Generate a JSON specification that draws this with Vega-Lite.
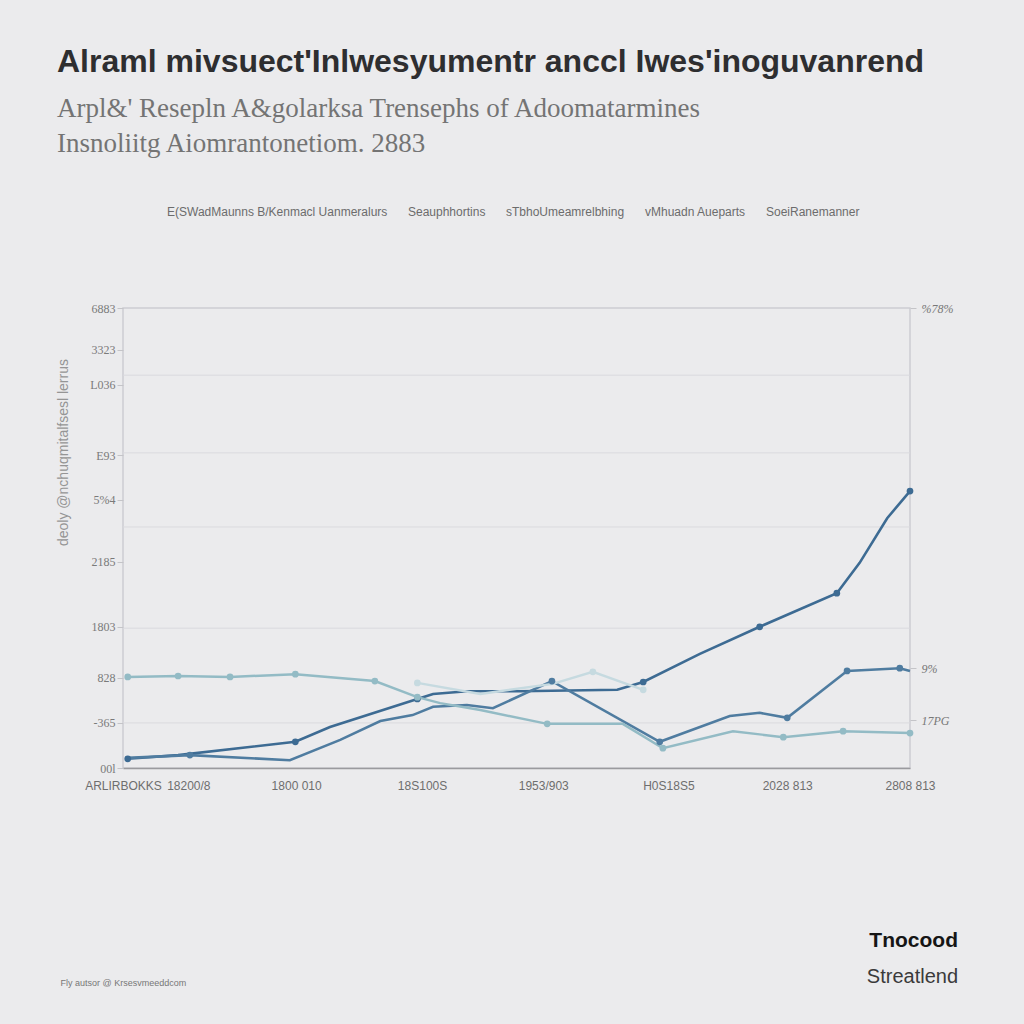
{
  "$schema": "https://vega.github.io/schema/vega-lite/v6.json",
  "width": 787,
  "height": 460,
  "autosize": {"type": "none"},
  "padding": {"left": 123, "top": 308, "right": 114, "bottom": 256},
  "background": "#ebebed",
  "config": {
    "view": {"stroke": "#cdcdd2", "strokeWidth": 1.5},
    "font": "Liberation Sans"
  },
  "title": {
    "text": "Alraml mivsuect'Inlwesyumentr anccl Iwes'inoguvanrend",
    "subtitle": ["Arpl&' Resepln A&golarksa Trensephs of Adoomatarmines", "Insnoliitg Aiomrantonetiom.  2883"],
    "anchor": "start",
    "frame": "group",
    "dx": -66,
    "offset": 48,
    "font": "Liberation Sans",
    "fontSize": 32,
    "fontWeight": "bold",
    "color": "#2e2e30",
    "subtitleFont": "Liberation Serif",
    "subtitleFontSize": 27,
    "subtitleColor": "#747474",
    "subtitlePadding": 17,
    "subtitleLineHeight": 35
  },
  "datasets": {
    "series": [
      {"series": "E(SWadMaunns B/Kenmacl Uanmeralurs", "t": 0.6, "v": 2.0, "mk": true},
      {"series": "E(SWadMaunns B/Kenmacl Uanmeralurs", "t": 7.0, "v": 2.8, "mk": false},
      {"series": "E(SWadMaunns B/Kenmacl Uanmeralurs", "t": 21.9, "v": 5.7, "mk": true},
      {"series": "E(SWadMaunns B/Kenmacl Uanmeralurs", "t": 26.3, "v": 8.9, "mk": false},
      {"series": "E(SWadMaunns B/Kenmacl Uanmeralurs", "t": 37.4, "v": 15.0, "mk": true},
      {"series": "E(SWadMaunns B/Kenmacl Uanmeralurs", "t": 39.4, "v": 16.1, "mk": false},
      {"series": "E(SWadMaunns B/Kenmacl Uanmeralurs", "t": 43.7, "v": 16.7, "mk": false},
      {"series": "E(SWadMaunns B/Kenmacl Uanmeralurs", "t": 50.4, "v": 16.7, "mk": false},
      {"series": "E(SWadMaunns B/Kenmacl Uanmeralurs", "t": 62.8, "v": 17.0, "mk": false},
      {"series": "E(SWadMaunns B/Kenmacl Uanmeralurs", "t": 66.1, "v": 18.7, "mk": true},
      {"series": "E(SWadMaunns B/Kenmacl Uanmeralurs", "t": 73.3, "v": 24.8, "mk": false},
      {"series": "E(SWadMaunns B/Kenmacl Uanmeralurs", "t": 80.9, "v": 30.7, "mk": true},
      {"series": "E(SWadMaunns B/Kenmacl Uanmeralurs", "t": 90.7, "v": 38.0, "mk": true},
      {"series": "E(SWadMaunns B/Kenmacl Uanmeralurs", "t": 93.6, "v": 44.6, "mk": false},
      {"series": "E(SWadMaunns B/Kenmacl Uanmeralurs", "t": 97.1, "v": 54.3, "mk": false},
      {"series": "E(SWadMaunns B/Kenmacl Uanmeralurs", "t": 100, "v": 60.2, "mk": true},
      {"series": "Seauphhortins", "t": 0.6, "v": 2.2, "mk": false},
      {"series": "Seauphhortins", "t": 8.5, "v": 2.8, "mk": true},
      {"series": "Seauphhortins", "t": 21.2, "v": 1.7, "mk": false},
      {"series": "Seauphhortins", "t": 27.6, "v": 6.1, "mk": false},
      {"series": "Seauphhortins", "t": 32.7, "v": 10.2, "mk": false},
      {"series": "Seauphhortins", "t": 36.8, "v": 11.5, "mk": false},
      {"series": "Seauphhortins", "t": 39.4, "v": 13.3, "mk": false},
      {"series": "Seauphhortins", "t": 43.7, "v": 13.7, "mk": false},
      {"series": "Seauphhortins", "t": 47.0, "v": 13.0, "mk": false},
      {"series": "Seauphhortins", "t": 54.5, "v": 18.9, "mk": true},
      {"series": "Seauphhortins", "t": 68.2, "v": 5.7, "mk": true},
      {"series": "Seauphhortins", "t": 77.1, "v": 11.3, "mk": false},
      {"series": "Seauphhortins", "t": 80.9, "v": 12.0, "mk": false},
      {"series": "Seauphhortins", "t": 84.4, "v": 10.9, "mk": true},
      {"series": "Seauphhortins", "t": 92.0, "v": 21.1, "mk": true},
      {"series": "Seauphhortins", "t": 98.7, "v": 21.7, "mk": true},
      {"series": "Seauphhortins", "t": 100, "v": 21.1, "mk": false},
      {"series": "sTbhoUmeamrelbhing", "t": 0.6, "v": 19.8, "mk": true},
      {"series": "sTbhoUmeamrelbhing", "t": 7.0, "v": 20.0, "mk": true},
      {"series": "sTbhoUmeamrelbhing", "t": 13.6, "v": 19.8, "mk": true},
      {"series": "sTbhoUmeamrelbhing", "t": 21.9, "v": 20.4, "mk": true},
      {"series": "sTbhoUmeamrelbhing", "t": 32.0, "v": 18.9, "mk": true},
      {"series": "sTbhoUmeamrelbhing", "t": 37.4, "v": 15.4, "mk": true},
      {"series": "sTbhoUmeamrelbhing", "t": 40.3, "v": 14.1, "mk": false},
      {"series": "sTbhoUmeamrelbhing", "t": 45.4, "v": 12.6, "mk": false},
      {"series": "sTbhoUmeamrelbhing", "t": 53.9, "v": 9.6, "mk": true},
      {"series": "sTbhoUmeamrelbhing", "t": 63.5, "v": 9.6, "mk": false},
      {"series": "sTbhoUmeamrelbhing", "t": 68.6, "v": 4.3, "mk": true},
      {"series": "sTbhoUmeamrelbhing", "t": 77.5, "v": 8.0, "mk": false},
      {"series": "sTbhoUmeamrelbhing", "t": 83.9, "v": 6.7, "mk": true},
      {"series": "sTbhoUmeamrelbhing", "t": 91.5, "v": 8.0, "mk": true},
      {"series": "sTbhoUmeamrelbhing", "t": 100, "v": 7.6, "mk": true},
      {"series": "vMhuadn Aueparts", "t": 37.4, "v": 18.5, "mk": true},
      {"series": "vMhuadn Aueparts", "t": 45.4, "v": 16.1, "mk": false},
      {"series": "vMhuadn Aueparts", "t": 54.6, "v": 18.3, "mk": false},
      {"series": "vMhuadn Aueparts", "t": 59.7, "v": 20.9, "mk": true},
      {"series": "vMhuadn Aueparts", "t": 66.1, "v": 17.0, "mk": true}
    ],
    "grid": [{"g": 85.4}, {"g": 68.5}, {"g": 52.4}, {"g": 30.4}, {"g": 9.8}],
    "one": [{"n": 1}]
  },
  "resolve": {"axis": {"y": "independent"}},
  "layer": [
    {
      "data": {"name": "grid"},
      "mark": {"type": "rule", "color": "#dadade", "strokeWidth": 1},
      "encoding": {
        "y": {
          "field": "g", "type": "quantitative",
          "scale": {"domain": [0, 100], "nice": false},
          "axis": {
            "orient": "right", "values": [100, 21.7, 10.4],
            "labelExpr": "datum.value > 50 ? '%78%' : datum.value > 15 ? '9%' : '17PG'",
            "grid": false, "domain": false, "ticks": true, "tickSize": 6, "tickColor": "#c4c4c8",
            "labelColor": "#777777", "labelFontSize": 12, "labelFontStyle": "italic", "labelFont": "Liberation Serif",
            "labelPadding": 5, "title": null
          }
        }
      }
    },
    {
      "data": {"name": "series"},
      "mark": {"type": "line"},
      "encoding": {
        "x": {
          "field": "t", "type": "quantitative",
          "scale": {"domain": [0, 100], "nice": false},
          "axis": {
            "values": [0, 8.3, 22, 38, 53.4, 69.3, 84.4, 100],
            "labelExpr": "datum.value < 4 ? 'ARLIRBOKKS' : datum.value < 15 ? '18200/8' : datum.value < 30 ? '1800 010' : datum.value < 45 ? '18S100S' : datum.value < 60 ? '1953/903' : datum.value < 75 ? 'H0S18S5' : datum.value < 90 ? '2028 813' : '2808 813'",
            "grid": false, "ticks": false, "domain": true, "domainColor": "#9a9a9e", "domainWidth": 1.5,
            "labelColor": "#6e6e6e", "labelFontSize": 12, "labelPadding": 12, "labelFlush": false,
            "title": "Fly autsor @ Krsesvmeeddcom", "titleX": -63, "titleY": 214, "titleAlign": "left",
            "titleAnchor": "start", "titleBaseline": "middle",
            "titleFontSize": 9, "titleFontWeight": "normal", "titleColor": "#777777"
          }
        },
        "y": {
          "field": "v", "type": "quantitative",
          "scale": {"domain": [0, 100], "nice": false},
          "axis": {
            "orient": "left",
            "values": [0, 9.8, 19.6, 30.7, 44.8, 58.3, 68, 83.3, 90.9, 100],
            "labelExpr": "datum.value > 95 ? '6883' : datum.value > 87 ? '3323' : datum.value > 75 ? 'L036' : datum.value > 63 ? 'E93' : datum.value > 50 ? '5%4' : datum.value > 38 ? '2185' : datum.value > 25 ? '1803' : datum.value > 15 ? '828' : datum.value > 5 ? '-365' : '00l'",
            "grid": false, "domain": false, "ticks": true, "tickSize": 6, "tickColor": "#c4c4c8",
            "labelColor": "#7a7a7a", "labelFont": "Liberation Serif", "labelFontSize": 12, "labelPadding": 2,
            "title": "deoly @nchuqmitalfsesl lerrus", "titleColor": "#959595", "titleFontSize": 14,
            "titleFontWeight": "normal", "titleX": -53, "titleY": 144
          }
        },
        "color": {
          "field": "series", "type": "nominal",
          "scale": {
            "domain": ["E(SWadMaunns B/Kenmacl Uanmeralurs", "Seauphhortins", "sTbhoUmeamrelbhing", "vMhuadn Aueparts", "SoeiRanemanner"],
            "range": ["#3d6b93", "#4f7ca0", "#93bbc5", "#c6dae0", "#a8a8a8"]
          },
          "legend": {
            "orient": "none", "legendX": 32, "legendY": -102, "direction": "horizontal", "columns": 5,
            "title": null, "symbolSize": 0, "symbolStrokeWidth": 0, "symbolOpacity": 0,
            "labelFontSize": 12, "labelLimit": 0, "labelColor": "#6c6c6c", "columnPadding": 8, "labelOffset": 0
          }
        },
        "strokeWidth": {
          "field": "series", "type": "nominal",
          "scale": {
            "domain": ["E(SWadMaunns B/Kenmacl Uanmeralurs", "Seauphhortins", "sTbhoUmeamrelbhing", "vMhuadn Aueparts", "SoeiRanemanner"],
            "range": [2.6, 2.3, 2, 1.6, 1.5]
          },
          "legend": null
        }
      }
    },
    {
      "data": {"name": "series"},
      "transform": [{"filter": "datum.mk"}],
      "mark": {"type": "circle", "size": 45, "opacity": 1},
      "encoding": {
        "x": {"field": "t", "type": "quantitative", "scale": {"domain": [0, 100], "nice": false}},
        "y": {"field": "v", "type": "quantitative", "scale": {"domain": [0, 100], "nice": false}, "axis": null},
        "color": {"field": "series", "type": "nominal"}
      }
    },
    {
      "data": {"name": "one"},
      "mark": {"type": "text", "align": "right", "baseline": "middle", "fontSize": 21, "fontWeight": "bold", "color": "#151515", "font": "Liberation Sans"},
      "encoding": {
        "x": {"datum": 106.1, "type": "quantitative", "scale": {"domain": [0, 100], "nice": false}},
        "y": {"datum": -37.6, "type": "quantitative", "scale": {"domain": [0, 100], "nice": false}, "axis": null},
        "text": {"value": "Tnocood"}
      }
    },
    {
      "data": {"name": "one"},
      "mark": {"type": "text", "align": "right", "baseline": "middle", "fontSize": 20, "color": "#3a3a3a", "font": "Liberation Sans"},
      "encoding": {
        "x": {"datum": 106.1, "type": "quantitative", "scale": {"domain": [0, 100], "nice": false}},
        "y": {"datum": -45.4, "type": "quantitative", "scale": {"domain": [0, 100], "nice": false}, "axis": null},
        "text": {"value": "Streatlend"}
      }
    }
  ]
}
